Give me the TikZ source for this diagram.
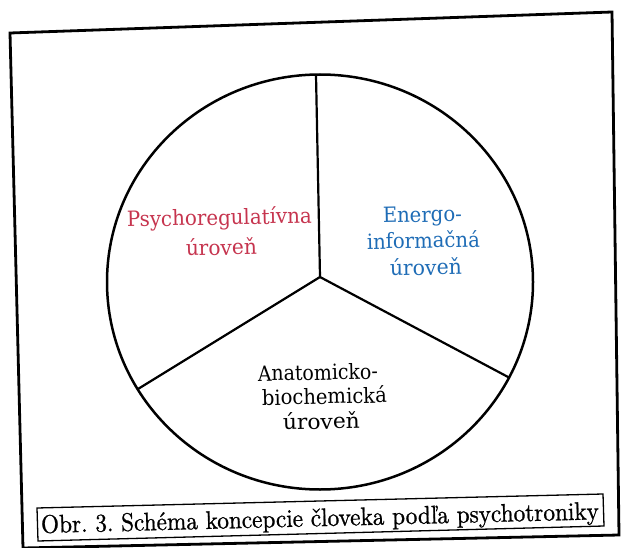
\documentclass[tikz,border=0pt]{standalone}
\usepackage{graphicx}
\usepackage{fontspec}
\newfontfamily\lblfont{DejaVu Serif}
\newfontfamily\capfont{lmroman10-regular}[Extension=.otf, FakeBold=0.9]
\definecolor{psyred}{RGB}{198,52,78}
\definecolor{enblue}{RGB}{30,108,182}
\newcommand{\fitw}[2]{\resizebox{#1pt}{\height}{#2}}
\frenchspacing
\tikzset{
  frameline/.style={line width=2.8pt, line join=miter},
  ring/.style={line width=2.5pt},
  divider/.style={line width=2.2pt, line cap=round},
  capbox/.style={line width=1.3pt, line join=miter},
  lbl/.style={inner sep=0pt, anchor=base, rotate=1.2, font=\lblfont\fontsize{21}{24}\selectfont},
  captext/.style={inner sep=0pt, anchor=base west, rotate=1.4, font=\capfont\fontsize{25.5}{30}\selectfont},
}
\begin{document}
\begin{tikzpicture}[x=1pt,y=-1pt]
\useasboundingbox (0,0) rectangle (621,548);
\clip (0,0) rectangle (621,548);
\fill[white] (0,0) rectangle (621,548);
% outer frame
\coordinate (f1) at (10,33);
\coordinate (f2) at (612,12);
\coordinate (f3) at (619,535);
\coordinate (f4) at (23,548);
\draw[frameline] (f1) -- (f2) -- (f3) -- (f4) -- cycle;
% circle
\coordinate (c) at (320,282);
\draw[ring] (c) ellipse [x radius=213, y radius=207.5];
% dividers
\coordinate (j) at (320,277);
\coordinate (t) at (316,75);
\coordinate (l) at (138,389);
\coordinate (r) at (509,377.5);
\draw[divider] (j) -- (t);
\draw[divider] (j) -- (l);
\draw[divider] (j) -- (r);
% labels
\node[lbl, text=psyred] (psy1) at (219.5,225) {\fitw{185}{Psychoregulatívna}};
\node[lbl, text=psyred] (psy2) at (221.5,255) {\fitw{71}{úroveň}};
\node[lbl, text=enblue] (en1) at (422.5,222) {\fitw{79}{Energo-}};
\node[lbl, text=enblue] (en2) at (423.5,248) {\fitw{113}{informačná}};
\node[lbl, text=enblue] (en3) at (426,275) {\fitw{72}{úroveň}};
\node[lbl] (an1) at (318,380) {\fitw{120}{Anatomicko-}};
\node[lbl] (an2) at (324.5,404) {\fitw{125}{biochemická}};
\node[lbl] (an3) at (321.5,429) {\fitw{77}{úroveň}};
% caption
\coordinate (b1) at (37,508);
\coordinate (b2) at (603,494);
\coordinate (b3) at (604,526);
\coordinate (b4) at (38,541);
\draw[capbox] (b1) -- (b2) -- (b3) -- (b4) -- cycle;
\node[captext] (cap) at (41,533) {\fitw{558}{Obr. 3. Schéma koncepcie človeka podľa psychotroniky}};
\end{tikzpicture}
\end{document}
